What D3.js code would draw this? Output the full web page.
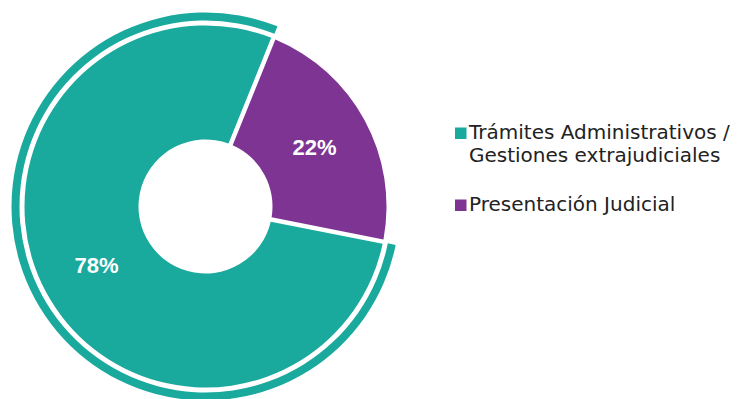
<!DOCTYPE html>
<html>
<head>
<meta charset="utf-8">
<script src="https://cdn.jsdelivr.net/npm/d3@7"></script>
<style>
  html, body { margin: 0; padding: 0; background: #fff; }
  svg { display: block; }
</style>
</head>
<body>
<svg id="chart" width="738" height="399"></svg>
<script>
// Share of cases by type of proceeding
const categories = ["Trámites Administrativos / Gestiones extrajudiciales", "Presentación Judicial"];
const legendLines = [["Trámites Administrativos /", "Gestiones extrajudiciales"], ["Presentación Judicial"]];
const values = [78, 22];
const colors = ["#1aa99d", "#7e3493"];

const svg = d3.select("#chart");
const cx = 205.5, cy = 206.5;
const innerR = 67, outerR = 181;
const ringInner = 186, ringOuter = 194;

const data = categories.map((c, i) => ({ name: c, value: values[i], color: colors[i] }));

const start = 101.2 * Math.PI / 180;
const pie = d3.pie()
  .value(d => d.value)
  .sort(null)
  .startAngle(start)
  .endAngle(start + 2 * Math.PI);

const arcs = pie(data);

const padWidth = 4.5;
const arc = d3.arc()
  .innerRadius(innerR)
  .outerRadius(outerR)
  .padRadius(outerR)
  .padAngle(padWidth / outerR);

const g = svg.append("g").attr("transform", `translate(${cx},${cy})`);

g.selectAll("path.slice")
  .data(arcs)
  .join("path")
  .attr("class", "slice")
  .attr("d", arc)
  .attr("fill", d => d.data.color);

// Highlight ring around the largest slice
const ringArc = d3.arc()
  .innerRadius(ringInner)
  .outerRadius(ringOuter)
  .padRadius(ringOuter)
  .padAngle(1.5 / ringOuter);

g.selectAll("path.ring")
  .data(arcs.filter(d => d.index === 0))
  .join("path")
  .attr("class", "ring")
  .attr("d", ringArc)
  .attr("fill", d => d.data.color);

// Percentage labels at slice centroids
const labelArc = d3.arc().innerRadius(innerR).outerRadius(outerR);
const total = d3.sum(values);
g.selectAll("text.pct")
  .data(arcs)
  .join("text")
  .attr("class", "pct")
  .attr("transform", d => {
    const [x, y] = labelArc.centroid(d);
    return `translate(${x},${y})`;
  })
  .attr("text-anchor", "middle")
  .attr("dy", "0.33em")
  .attr("font-family", "'Liberation Sans', Arial, sans-serif")
  .attr("font-weight", "bold")
  .attr("font-size", 22)
  .attr("fill", "#fff")
  .text(d => Math.round(d.data.value / total * 100) + "%");

// Legend
const legendX = 455, textX = 469;
const legendY = [139, 211];
const lineH = 22.5;
const legend = svg.append("g");
data.forEach((d, i) => {
  legend.append("rect")
    .attr("x", legendX)
    .attr("y", legendY[i] - 11.5)
    .attr("width", 11.5)
    .attr("height", 11.5)
    .attr("fill", d.color);
  const t = legend.append("text")
    .attr("font-family", "'DejaVu Sans', sans-serif")
    .attr("font-size", 20)
    .attr("fill", "#222");
  legendLines[i].forEach((line, j) => {
    t.append("tspan")
      .attr("x", textX)
      .attr("y", legendY[i] + j * lineH)
      .text(line);
  });
});
</script>
</body>
</html>
